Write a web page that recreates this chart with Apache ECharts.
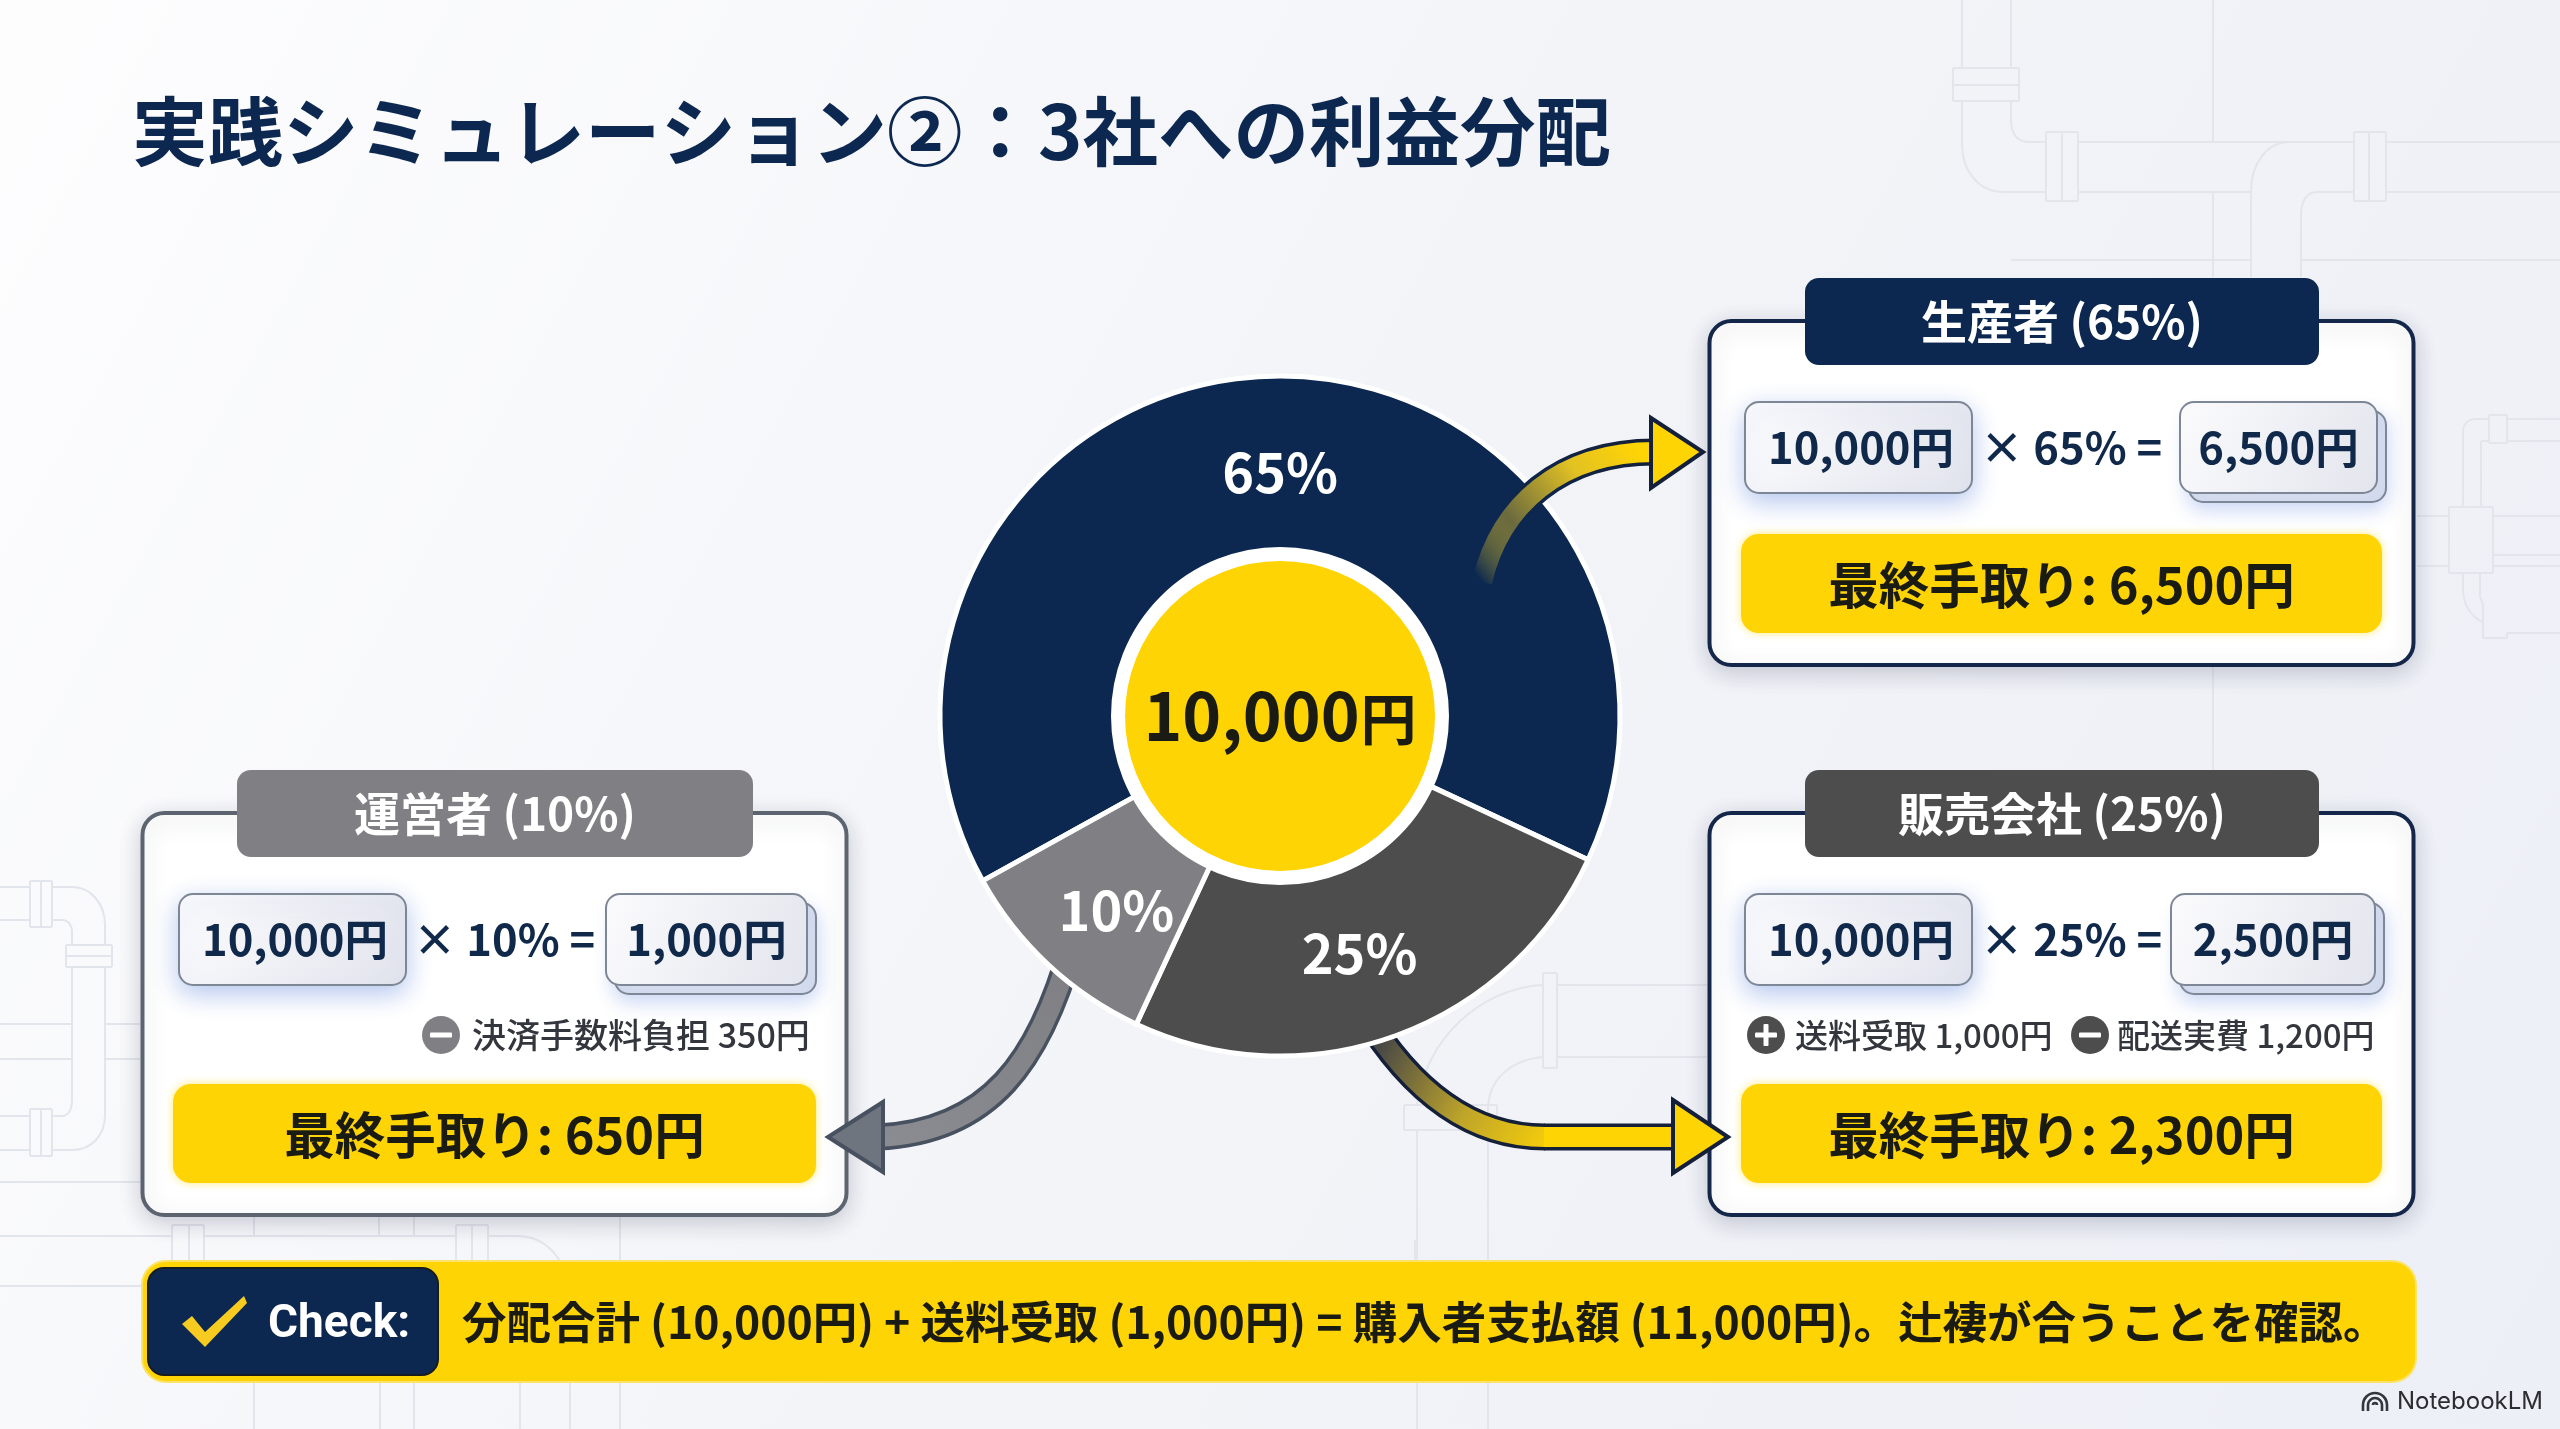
<!DOCTYPE html>
<html lang="ja">
<head>
<meta charset="utf-8">
<title>実践シミュレーション②</title>
<style>html,body{margin:0;padding:0;background:#f3f4f8}#c{width:2560px;height:1429px}</style>
<script src="https://cdn.jsdelivr.net/npm/echarts@6/dist/echarts.min.js"></script>
</head>
<body>
<div id="c"></div>
<script>
// ---- data ----
const titleText = '実践シミュレーション②：3社への利益分配';
const totalYen = 10000;
const categories = ['生産者', '販売会社', '運営者'];
const shares = [65, 25, 10];
const grossYen = [6500, 2500, 1000];
const finalYen = [6500, 2300, 650];
const shippingReceived = 1000;
const shippingCost = 1200;
const paymentFee = 350;
const buyerPaid = 11000;

// ---- colours and fonts ----
const NAVY = '#0c2850', GREY = '#808084', DARK = '#4d4d4d', YEL = '#ffd405', INK = '#1a1c14', BLUEINK = '#10284a';
const CJK = '"Noto Sans CJK JP","Noto Sans",sans-serif';
const yen = v => v.toLocaleString('en-US') + '円';
const sliceColors = [NAVY, DARK, GREY];

// ---- drawing helpers ----
const g = [];
const text = (t, x, y, size, fill, weight, align, z, family) => g.push({
  type: 'text', z: z || 20,
  style: { text: t, x, y, fill, fontSize: size, fontWeight: weight || 'bold', fontFamily: family || CJK, align: align || 'center', verticalAlign: 'middle' }
});
const rect = (x0, y0, x1, y1, r, style, z) => g.push({
  type: 'rect', z: z || 10, shape: { x: x0, y: y0, width: x1 - x0, height: y1 - y0, r }, style
});
const valueBoxFill = (x0, y0, x1, y1) => ({
  type: 'linear', global: true, x: x0, y: y0, x2: x1, y2: y1,
  colorStops: [{ offset: 0, color: '#fbfbfd' }, { offset: 1, color: '#e3e5ed' }]
});

function card(c) {
  rect(c.x0 + 2.5, c.y0 + 2, c.x1 - 2.5, c.y1 - 2, 22, { fill: '#fff', stroke: c.stroke, lineWidth: 4, shadowBlur: 22, shadowColor: 'rgba(40,50,80,0.22)', shadowOffsetY: 6 }, 10);
  rect(c.tab0, c.y0 - 41, c.tab1, c.y0 + 46, 14, { fill: c.color }, 11);
  text(`${categories[c.i]} (${shares[c.i]}%)`, (c.tab0 + c.tab1) / 2, c.y0 + 3, 46, '#fff', 'bold');
  const by0 = c.y0 + 83, by1 = c.y0 + 174;
  rect(c.box0, by0, c.box0 + 227, by1, 14, { fill: valueBoxFill(c.box0, by0, c.box0 + 227, by1), stroke: '#7e8796', lineWidth: 2, shadowBlur: 26, shadowColor: 'rgba(90,130,220,0.45)', shadowOffsetY: 8 }, 12);
  text(yen(totalYen), c.box0 + 116, c.y0 + 128, 43.5, BLUEINK, 'bold');
  text(`× ${shares[c.i]}% =`, c.opX, c.y0 + 128, 43.5, BLUEINK, 'bold');
  rect(c.res0 + 9, by0 + 9, c.res1 + 9, by1 + 9, 14, { fill: '#d5dcee', stroke: '#7e8796', lineWidth: 2, shadowBlur: 20, shadowColor: 'rgba(90,130,220,0.35)', shadowOffsetY: 6 }, 12);
  rect(c.res0, by0, c.res1, by1, 14, { fill: valueBoxFill(c.res0, by0, c.res1, by1), stroke: '#7e8796', lineWidth: 2 }, 13);
  text(yen(grossYen[c.i]), (c.res0 + c.res1) / 2, c.y0 + 128, 43.5, BLUEINK, 'bold', 'center', 21);
  rect(c.fin0, c.fin1Y - 99, c.fin1, c.fin1Y, 18, { fill: YEL, shadowBlur: 8, shadowColor: 'rgba(255,225,60,0.7)' }, 12);
  text(`最終手取り: ${yen(finalYen[c.i])}`, (c.fin0 + c.fin1) / 2, c.fin1Y - 48, 50.5, INK, 'bold');
}
function signIcon(cx, cy, color, plus) {
  g.push({ type: 'circle', z: 12, shape: { cx, cy, r: 19 }, style: { fill: color } });
  rect(cx - 11, cy - 2.5, cx + 11, cy + 2.5, 1, { fill: '#fff' }, 13);
  if (plus) rect(cx - 2.5, cy - 11, cx + 2.5, cy + 11, 1, { fill: '#fff' }, 13);
}
function arrow(a) {
  const shape = { x1: a.p[0], y1: a.p[1], cpx1: a.p[2], cpy1: a.p[3], cpx2: a.p[4], cpy2: a.p[5], x2: a.p[6], y2: a.p[7] };
  const grad = stops => ({ type: 'linear', global: true, x: a.g[0], y: a.g[1], x2: a.g[2], y2: a.g[3], colorStops: stops });
  const straight = a.ext ? { x1: a.p[6] - 1, y1: a.p[7], x2: a.ext, y2: a.p[7] } : null;
  g.push({ type: 'bezierCurve', z: a.z, shape, style: { fill: 'none', lineWidth: 27, stroke: grad(a.edge) } });
  if (straight) g.push({ type: 'line', z: a.z, shape: straight, style: { lineWidth: 27, stroke: a.edge[a.edge.length - 1].color } });
  g.push({ type: 'bezierCurve', z: a.z + 0.1, shape, style: { fill: 'none', lineWidth: 20, stroke: grad(a.core) } });
  if (straight) g.push({ type: 'line', z: a.z + 0.1, shape: straight, style: { lineWidth: 20, stroke: a.core[a.core.length - 1].color } });
  g.push({ type: 'polygon', z: 16, shape: { points: a.head }, style: { fill: a.headFill, stroke: a.headEdge, lineWidth: 4, lineJoin: 'miter' } });
}

// ---- faint pipework behind everything ----
const pipes = [
  // top right
  'M1962 0V68M2011 0V68M1953 68H2019V101H1953ZM1953 85H2019',
  'M1962 101V145C1962 172 1980 192 2003 192H2046M2011 101V120C2011 133 2017 142 2028 142H2046',
  'M2046 132H2078V201H2046ZM2062 132V201M2078 142H2354M2078 192H2251',
  'M2213 0V142M2213 192V277M2287 142C2265 144 2251 165 2251 192V277',
  'M2354 132H2386V201H2354ZM2369 132V201M2386 142H2560M2386 192H2560',
  'M2354 192H2317C2306 192 2301 202 2301 215V277M2011 260H2251M2301 260H2560M2213 667V770',
  // right edge
  'M2463 507V432C2463 424 2468 419 2476 419H2489M2489 415H2507V443H2489ZM2507 419H2560M2507 441H2560M2481 507V441H2489',
  'M2449 507H2493V573H2449ZM2417 516H2449M2417 566H2449M2493 516H2560M2493 555H2560M2493 566H2560',
  'M2463 573V590C2463 605 2472 617 2482 622M2480 573V597L2483 604V638H2507V633H2560',
  // left edge
  'M30 881H52V927H30ZM41 881V927M0 887H30M0 920H30M52 887H72C92 887 105 905 105 925V945M52 920H62C68 920 72 925 72 932V945',
  'M66 945H112V967H66ZM66 956H112M72 967V1100C72 1110 68 1116 62 1116H52M105 967V1115C105 1135 92 1150 72 1150H52',
  'M30 1109H52V1156H30ZM41 1109V1156M0 1116H30M0 1150H30',
  'M0 1024H72M105 1024V967M105 1024H140M0 1059H72M105 1059H140M105 1059V1100M0 1182H140M0 1236H172M0 1286H142',
  // bottom left
  'M172 1225H204V1261M172 1225V1261M189 1225V1261M204 1236H456M456 1225H488V1261M456 1225V1261M472 1225V1261M488 1236H517C535 1236 550 1245 560 1261',
  'M254 1217V1236M379 1217V1236M414 1217V1236M620 1217V1261M254 1382V1429M380 1382V1429M414 1382V1429M520 1382V1429M570 1382V1429M620 1382V1429',
  // bottom centre
  'M1543 973H1557V1068H1543ZM1557 985H1707M1557 1057H1707M1543 985C1480 988 1425 1040 1417 1105M1543 1057C1510 1060 1488 1080 1488 1110V1261',
  'M1404 1105H1497V1130H1404ZM1417 1130V1261M1417 1382V1429M1488 1382V1429M1415 1240V1261M1488 1240V1261'
];
const pipeStyle = { fill: 'none', stroke: '#e3e5ec', lineWidth: 2 };
function drawPipe(d) {
  const tokens = d.match(/[MHVLCZ]|-?[\d.]+/g);
  let i = 0, x = 0, y = 0, sx = 0, sy = 0;
  const seg = (x2, y2) => {
    g.push({ type: 'line', z: 0, shape: { x1: x, y1: y, x2, y2 }, style: pipeStyle });
    x = x2; y = y2;
  };
  const num = () => parseFloat(tokens[i++]);
  let cmd = '';
  while (i < tokens.length) {
    if (/[MHVLCZ]/.test(tokens[i])) cmd = tokens[i++];
    if (cmd === 'M') { x = sx = num(); y = sy = num(); }
    else if (cmd === 'H') seg(num(), y);
    else if (cmd === 'V') seg(x, num());
    else if (cmd === 'L') { const a = num(); seg(a, num()); }
    else if (cmd === 'Z') seg(sx, sy);
    else if (cmd === 'C') {
      const c = [num(), num(), num(), num(), num(), num()];
      g.push({ type: 'bezierCurve', z: 0, shape: { x1: x, y1: y, cpx1: c[0], cpy1: c[1], cpx2: c[2], cpy2: c[3], x2: c[4], y2: c[5] }, style: pipeStyle });
      x = c[4]; y = c[5];
    }
  }
}
pipes.forEach(drawPipe);

// ---- title ----
text(titleText, 132, 131, 75.5, NAVY, 'bold', 'left');

// ---- arrows ----
arrow({
  z: 6, p: [1482, 582, 1500, 505, 1560, 452, 1655, 452], g: [1482, 582, 1640, 452],
  edge: [{ offset: 0, color: 'rgba(12,40,80,0)' }, { offset: 0.25, color: 'rgba(12,40,80,1)' }, { offset: 1, color: '#14203a' }],
  core: [{ offset: 0, color: 'rgba(240,205,30,0)' }, { offset: 0.3, color: '#6b6a3f' }, { offset: 0.7, color: '#e3c222' }, { offset: 1, color: YEL }],
  head: [[1651, 418], [1703, 452], [1651, 488]], headFill: YEL, headEdge: '#14203a'
});
arrow({
  z: 1, p: [1362, 1010, 1410, 1090, 1470, 1137, 1545, 1137], ext: 1680, g: [1385, 1040, 1570, 1137],
  edge: [{ offset: 0, color: '#14203a' }, { offset: 1, color: '#14203a' }],
  core: [{ offset: 0, color: '#4a4a45' }, { offset: 0.5, color: '#bfa52a' }, { offset: 1, color: YEL }],
  head: [[1673, 1100], [1728, 1137], [1673, 1173]], headFill: YEL, headEdge: '#14203a'
});
arrow({
  z: 1, p: [1072, 945, 1040, 1060, 990, 1132, 878, 1137], g: [1066, 968, 880, 1137],
  edge: [{ offset: 0, color: '#47515f' }, { offset: 1, color: '#47515f' }],
  core: [{ offset: 0, color: '#808084' }, { offset: 1, color: '#8a8c92' }],
  head: [[883, 1102], [828, 1137], [883, 1172]], headFill: '#6e757f', headEdge: '#47515f'
});

// ---- the three cards ----
card({ i: 0, x0: 1707, x1: 2416, y0: 319, y1: 667, tab0: 1805, tab1: 2319, color: NAVY, stroke: '#14274a', box0: 1745, opX: 2071, res0: 2180, res1: 2377, fin0: 1741, fin1: 2382, fin1Y: 633 });
card({ i: 1, x0: 1707, x1: 2416, y0: 811, y1: 1217, tab0: 1805, tab1: 2319, color: DARK, stroke: '#14274a', box0: 1745, opX: 2071, res0: 2171, res1: 2375, fin0: 1741, fin1: 2382, fin1Y: 1183 });
card({ i: 2, x0: 140, x1: 849, y0: 811, y1: 1217, tab0: 237, tab1: 753, color: GREY, stroke: '#5c6470', box0: 179, opX: 504, res0: 606, res1: 807, fin0: 173, fin1: 816, fin1Y: 1183 });

// ---- adjustment notes ----
signIcon(441, 1035, GREY, false);
text(`決済手数料負担 ${paymentFee}円`, 472, 1035, 34, '#33363c', 500, 'left');
signIcon(1766, 1035, DARK, true);
text(`送料受取 ${yen(shippingReceived)}`, 1795, 1035, 33, '#33363c', 500, 'left');
signIcon(2090, 1035, DARK, false);
text(`配送実費 ${yen(shippingCost)}`, 2117, 1035, 33, '#33363c', 500, 'left');

// ---- check bar ----
rect(142, 1261, 2416, 1382, 24, { fill: YEL, stroke: '#fbe36a', lineWidth: 2 }, 10);
rect(148, 1268, 438, 1375, 16, { fill: NAVY, stroke: '#151d22', lineWidth: 2 }, 11);
g.push({ type: 'polygon', z: 12, shape: { points: [[182, 1324], [205, 1347], [247, 1303], [244, 1296], [205, 1332], [192, 1316]] }, style: { fill: '#f7cb20' } });
text('Check:', 268, 1325, 46, '#fff', 'bold', 'left', 20, 'Roboto,sans-serif');
text(`分配合計 (${yen(totalYen)}) + 送料受取 (${yen(shippingReceived)}) = 購入者支払額 (${yen(buyerPaid)})。辻褄が合うことを確認。`, 462, 1322, 44.5, INK, 'bold', 'left');

// ---- NotebookLM mark ----
const markStyle = { fill: 'none', stroke: '#33363c', lineWidth: 2.6 };
[12, 7, 2].forEach(r => g.push({ type: 'arc', z: 5, shape: { cx: 2375, cy: 1405, r, startAngle: Math.PI, endAngle: 0, clockwise: true }, style: markStyle }));
[2363, 2368, 2382, 2387].forEach(x => g.push({ type: 'line', z: 5, shape: { x1: x, y1: 1405, x2: x, y2: 1411 }, style: markStyle }));
text('NotebookLM', 2397, 1402, 24, '#2b2d31', 400, 'left', 5, 'Inter,sans-serif');

// ---- chart ----
const labelNudge = [[9, 9], [-7, 0], [9, 9]];
const chart = echarts.init(document.getElementById('c'), null, { renderer: 'canvas', width: 2560, height: 1429 });
chart.setOption({
  animation: false,
  backgroundColor: {
    type: 'linear', x: 0, y: 0, x2: 1, y2: 1,
    colorStops: [{ offset: 0, color: '#fdfdfe' }, { offset: 0.5, color: '#f3f4f8' }, { offset: 1, color: '#eceff6' }]
  },
  graphic: { elements: g },
  series: [
    {
      type: 'pie', z: 2, center: [1280, 716], radius: [160, 340], startAngle: 209, clockwise: true, silent: true,
      data: categories.map((name, i) => ({ name, value: shares[i], itemStyle: { color: sliceColors[i] } })),
      itemStyle: { borderColor: '#fff', borderWidth: 5 },
      label: { show: true, position: 'inside', formatter: p => p.value + '%', color: '#fff', fontSize: 54, fontWeight: 'bold', fontFamily: CJK },
      labelLine: { show: false },
      labelLayout: p => ({ dx: labelNudge[p.dataIndex][0], dy: labelNudge[p.dataIndex][1] })
    },
    {
      type: 'pie', z: 3, center: [1280, 716], radius: [0, 162], silent: true,
      data: [{ name: '合計', value: totalYen, itemStyle: { color: YEL, borderColor: '#fff', borderWidth: 14 } }],
      label: {
        show: true, position: 'center',
        formatter: p => `{a|${p.value.toLocaleString('en-US')}}{b|円}`,
        rich: {
          a: { color: INK, fontSize: 66, fontWeight: 'bold', fontFamily: CJK },
          b: { color: INK, fontSize: 56, fontWeight: 'bold', fontFamily: CJK, padding: [6, 0, 0, 1] }
        }
      },
      labelLine: { show: false }
    }
  ]
});
</script>
</body>
</html>
